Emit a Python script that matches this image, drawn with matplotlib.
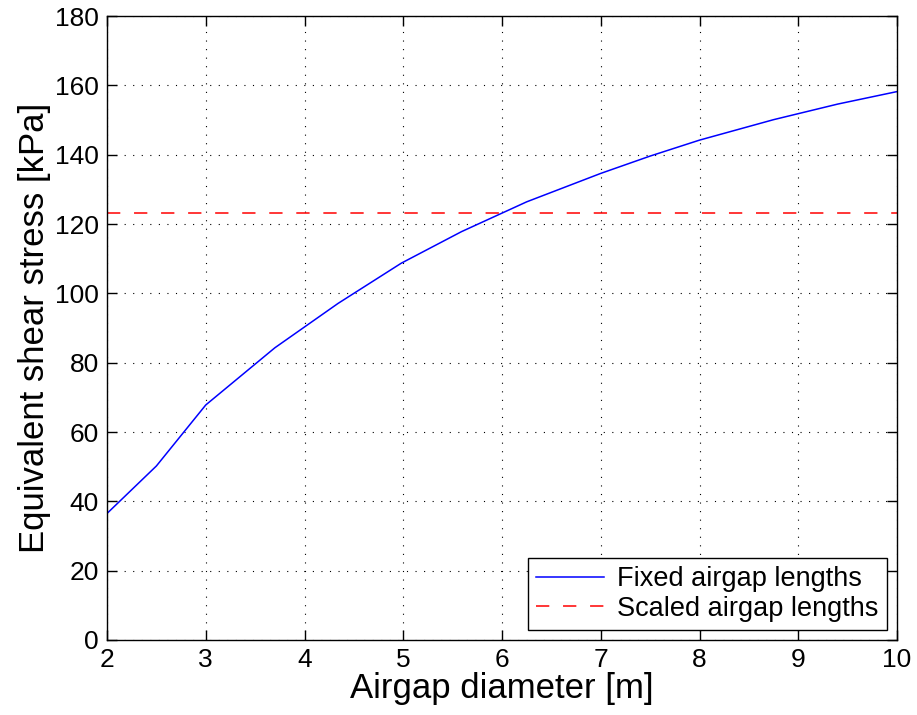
import matplotlib
matplotlib.use("Agg")
import matplotlib.pyplot as plt

plt.rcParams['font.family'] = ['Liberation Sans', 'DejaVu Sans']

# Airgap diameter [m] and equivalent shear stress [kPa]
diameter = [2.0, 2.5, 3.0, 3.7, 4.34, 4.98, 5.59, 6.25, 7.0, 7.5, 8.0, 8.75, 9.4, 10.0]
stress_fixed = [36.5, 50.2, 67.8, 84.3, 97.1, 108.7, 117.8, 126.4, 134.6, 139.6, 144.2, 150.1, 154.6, 158.2]
stress_scaled = 123.1

xticks = [2, 3, 4, 5, 6, 7, 8, 9, 10]
yticks = [0, 20, 40, 60, 80, 100, 120, 140, 160, 180]

fig = plt.figure(figsize=(9.17, 7.15), dpi=100)
ax = fig.add_axes([0.1167, 0.1049, 0.8615, 0.8727])

ax.plot(diameter, stress_fixed, color='#0000ff', lw=1.1, label='Fixed airgap lengths')
ax.plot([diameter[0], diameter[-1]], [stress_scaled, stress_scaled], color='#ff0000',
        lw=1.1, dashes=(8.7, 9.0), label='Scaled airgap lengths')

ax.set_xlim(2, 10)
ax.set_ylim(0, 180)
ax.set_xticks(xticks)
ax.set_yticks(yticks)
ax.grid(True, color='black', linestyle=(0, (1, 6.7)), linewidth=0.8)
ax.tick_params(direction='in', length=7, width=1, top=True, right=True, labelsize=19, pad=6)
for s in ax.spines.values():
    s.set_linewidth(1.0)

ax.set_xlabel('Airgap diameter [m]', fontsize=25, labelpad=0)
ax.set_ylabel('Equivalent shear stress [kPa]', fontsize=25, labelpad=3)

leg = ax.legend(loc='lower right', fontsize=19.5, frameon=True, fancybox=False,
                edgecolor='black', framealpha=1, borderpad=0.3, labelspacing=0.12,
                handlelength=2.5, handletextpad=0.5, borderaxespad=0.38)
leg.get_frame().set_linewidth(1.0)

fig.savefig('out.png', dpi=100)
